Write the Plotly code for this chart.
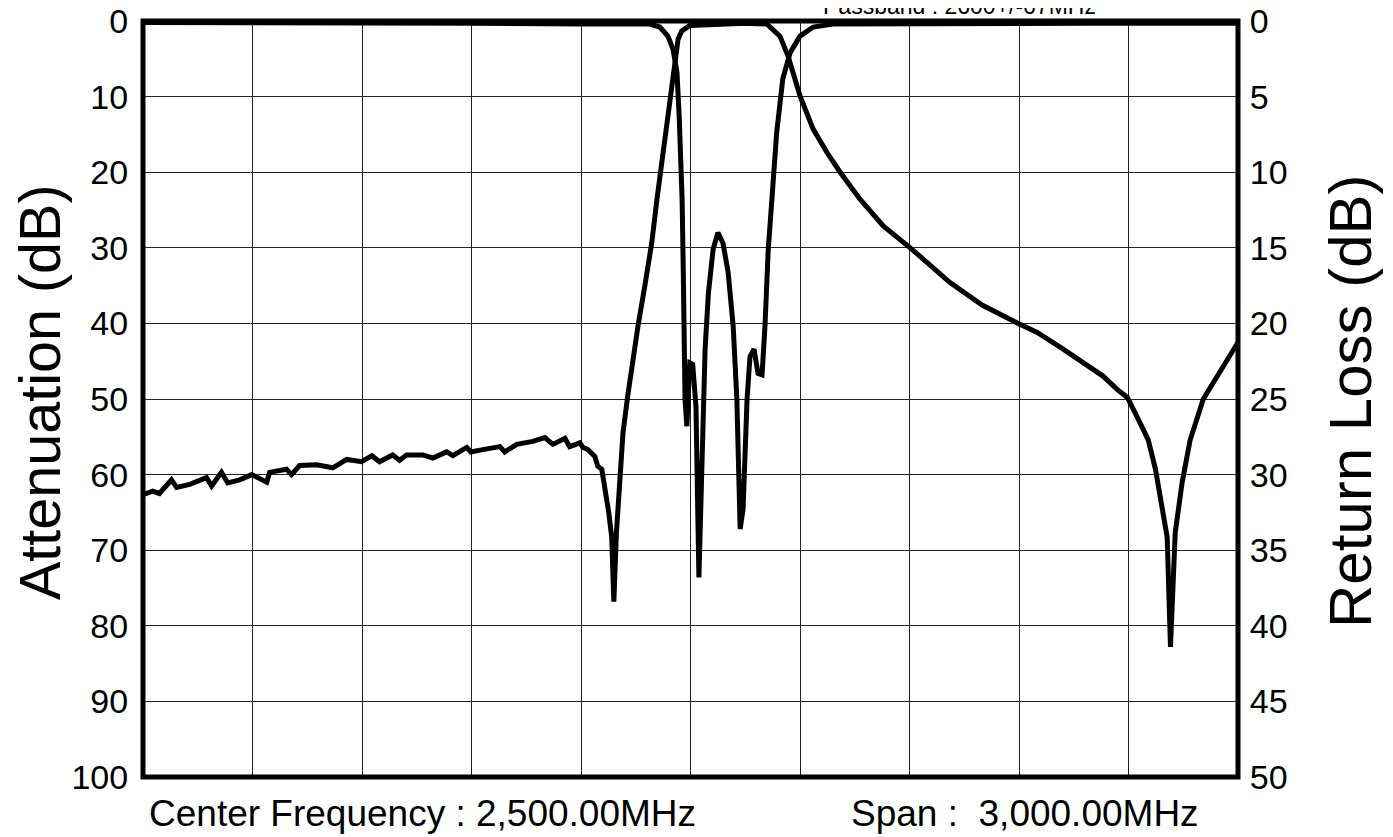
import plotly.graph_objects as go

# ---------------- data ----------------
# Transmission / attenuation (left axis, dB) vs frequency (MHz)
att_freq = [1004, 1026, 1045, 1078, 1092, 1128, 1174, 1188, 1215, 1232, 1265, 1298,
            1339, 1347, 1393, 1407, 1429, 1476, 1520, 1558, 1599, 1627, 1648, 1684,
            1703, 1722, 1766, 1794, 1832, 1849, 1887, 1898, 1931, 1978, 1991, 2024,
            2068, 2101, 2123, 2156, 2169, 2197, 2205, 2219, 2238, 2246, 2257, 2265,
            2276, 2284, 2290, 2297, 2306, 2315, 2328, 2342, 2356, 2375, 2394, 2408,
            2425, 2444, 2457, 2466, 2476, 2498, 2550, 2600, 2650, 2709, 2745, 2767,
            2800, 2836, 2874, 2910, 2965, 3028, 3102, 3211, 3300, 3398, 3450, 3521,
            3576, 3631, 3668, 3697, 3727, 3754, 3774, 3793, 3806, 3815, 3828, 3847,
            3869, 3905, 3943, 3987, 4000]
att_db = [62.6, 62.2, 62.5, 60.7, 61.7, 61.3, 60.4, 61.5, 59.7, 61.1, 60.7, 60.0,
          61.0, 59.7, 59.3, 60.0, 58.8, 58.7, 59.1, 58.0, 58.3, 57.5, 58.3, 57.4,
          58.1, 57.4, 57.4, 57.8, 57.0, 57.5, 56.4, 57.0, 56.7, 56.3, 57.0, 56.0,
          55.6, 55.1, 56.0, 55.2, 56.3, 55.8, 56.4, 56.7, 57.6, 58.9, 59.3, 61.6,
          65.0, 68.2, 76.8, 67.7, 59.7, 54.5, 49.6, 44.8, 40.4, 35.0, 29.3, 23.6,
          17.0, 10.3, 5.0, 2.4, 1.3, 0.6, 0.5, 0.4, 0.3, 0.4, 2.0, 4.6,
          9.9, 14.3, 17.4, 20.0, 23.6, 27.1, 30.0, 34.6, 37.6, 40.0, 41.2, 43.4,
          45.2, 47.0, 48.7, 49.8, 52.7, 55.4, 59.3, 64.2, 68.3, 82.8, 67.7, 61.0,
          55.4, 50.0, 47.0, 43.4, 42.5]

# Return loss (right axis, dB) vs frequency (MHz)
rl_freq = [1000, 1300, 1600, 1900, 2200, 2389, 2416, 2438, 2452, 2463, 2469, 2474,
           2477, 2480, 2482, 2485, 2490, 2498, 2506, 2515, 2523, 2531, 2540, 2549,
           2562, 2575, 2589, 2603, 2617, 2627, 2636, 2644, 2655, 2663, 2674, 2685,
           2696, 2704, 2713, 2723, 2736, 2753, 2773, 2800, 2836, 2891, 3200, 3600, 4000]
rl_db = [0.1, 0.1, 0.15, 0.15, 0.2, 0.2, 0.4, 1.0, 1.85, 3.4, 6.3, 9.6,
         11.8, 16.2, 20.6, 25.0, 26.8, 22.6, 22.7, 25.5, 36.8, 29.5, 21.7, 18.0,
         15.1, 14.0, 14.7, 16.6, 20.2, 25.0, 33.6, 32.3, 25.0, 22.2, 21.7, 23.3,
         23.4, 20.2, 15.1, 11.8, 7.4, 3.8, 2.1, 1.0, 0.4, 0.2, 0.15, 0.15, 0.15]

left_ticks = [0, 10, 20, 30, 40, 50, 60, 70, 80, 90, 100]
right_ticks = [0, 5, 10, 15, 20, 25, 30, 35, 40, 45, 50]
x_grid = [1000, 1300, 1600, 1900, 2200, 2500, 2800, 3100, 3400, 3700, 4000]

# ---------------- layout helpers ----------------
W, H = 1393, 837
OFF = 8  # page body margin offset
L, R, T, B = 143 - OFF, 163, 21 - OFF, 68
PW, PH = W - L - R, H - T - B


def px(x):
    return (x - OFF - L) / PW


def py(y):
    return (H - B - (y - OFF)) / PH


FONT = "Liberation Sans, Arial, sans-serif"

fig = go.Figure()
fig.add_trace(go.Scatter(x=att_freq, y=att_db, mode="lines",
                         line=dict(color="black", width=5),
                         yaxis="y", showlegend=False))
fig.add_trace(go.Scatter(x=rl_freq, y=rl_db, mode="lines",
                         line=dict(color="black", width=5),
                         yaxis="y2", showlegend=False))

fig.update_layout(
    width=W, height=H,
    margin=dict(l=L, r=R, t=T, b=B, pad=0, autoexpand=False),
    paper_bgcolor="white", plot_bgcolor="white",
    font=dict(family=FONT, color="black"),
    showlegend=False,
    xaxis=dict(range=[1000, 4000], tickvals=x_grid, showticklabels=False,
               showgrid=True, gridcolor="#222", gridwidth=1, automargin=False,
               zeroline=False, showline=False, ticks=""),
    yaxis=dict(range=[100, 0], tickvals=left_ticks, ticktext=[str(v) for v in left_ticks],
               showgrid=True, gridcolor="#222", gridwidth=1, automargin=False,
               zeroline=False, showline=False, ticks="outside", ticklen=7,
               tickcolor="rgba(0,0,0,0)", ticklabeloverflow="allow",
               tickfont=dict(size=34, family=FONT, color="black")),
    yaxis2=dict(range=[50, 0], tickvals=right_ticks, ticktext=[str(v) for v in right_ticks],
                overlaying="y", side="right", showgrid=False, automargin=False,
                zeroline=False, showline=False, ticks="outside", ticklen=4,
                tickcolor="rgba(0,0,0,0)", ticklabeloverflow="allow",
                tickfont=dict(size=34, family=FONT, color="black")),
    shapes=[dict(type="rect", xref="paper", yref="paper", x0=0, x1=1, y0=0, y1=1,
                 line=dict(color="black", width=5), layer="above")],
)

ann = [
    dict(text="Attenuation (dB)", x=px(40), y=py(392), textangle=-90,
         font=dict(size=57.5)),
    dict(text="Return Loss (dB)", x=px(1350), y=py(401), textangle=-90,
         font=dict(size=60)),
    dict(text="Center Frequency : 2,500.00MHz", x=px(147), y=py(813),
         xanchor="left", font=dict(size=37)),
    dict(text="Span :  3,000.00MHz", x=px(849), y=py(813),
         xanchor="left", font=dict(size=37)),
    dict(text="Passband : 2600+/-67MHz", x=px(1098), y=py(21),
         xanchor="right", yanchor="bottom", font=dict(size=23)),
]
for a in ann:
    a.setdefault("xanchor", "center")
    a.setdefault("yanchor", "middle")
    a.update(xref="paper", yref="paper", showarrow=False)
    a["font"] = dict(family=FONT, color="black", size=a["font"]["size"])
fig.update_layout(annotations=ann)

fig.write_html("out.html")
